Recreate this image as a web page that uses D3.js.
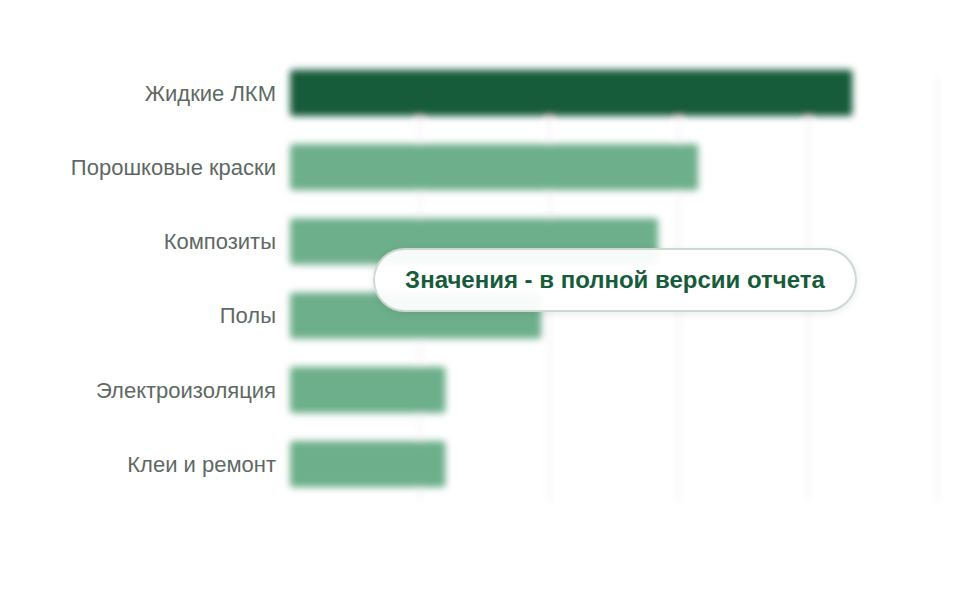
<!DOCTYPE html>
<html>
<head>
<meta charset="utf-8">
<script src="https://cdn.jsdelivr.net/npm/d3@7"></script>
<style>
  body { margin: 0; background: #fff; }
  #chart { position: relative; width: 960px; height: 600px; }
  .pill {
    position: absolute; left: 373px; top: 248px; width: 484px; height: 64px;
    box-sizing: border-box; border: 2px solid #cdd8d1; border-radius: 32px;
    background: rgba(255,255,255,0.94); box-shadow: 0 2px 8px rgba(0,0,0,0.08);
    display: flex; align-items: center; justify-content: center;
    font-family: "Liberation Sans", Arial, sans-serif; font-weight: bold;
    font-size: 24px; color: #175c3a;
  }
</style>
</head>
<body>
<div id="chart"></div>
<script>
// categories and values
const categories = ['Жидкие ЛКМ', 'Порошковые краски', 'Композиты', 'Полы', 'Электроизоляция', 'Клеи и ремонт'];
const values = [43.4, 31.5, 28.4, 19.4, 12, 12];
const xTicks = [0, 10, 20, 30, 40, 50];

var width = 960;
var height = 600;
var margin = { top: 55, right: 22, bottom: 98, left: 290 };

var svg = d3.select('#chart')
    .append('svg')
    .attr('width', width)
    .attr('height', height);

var defs = svg.append('defs');
defs.append('filter').attr('id', 'blur')
    .attr('x', '-10%').attr('y', '-30%').attr('width', '120%').attr('height', '160%')
    .append('feGaussianBlur').attr('stdDeviation', 3.6);

var x = d3.scaleLinear()
    .domain([0, 50])
    .range([margin.left, width - margin.right]);

var y = d3.scaleBand()
    .domain(categories)
    .range([margin.top, height - margin.bottom])
    .paddingInner(0.38)
    .paddingOuter(0.2);

var plot = svg.append('g').attr('filter', 'url(#blur)');

// faint grid
plot.append('g')
    .selectAll('line')
    .data(xTicks.slice(1))
    .enter()
    .append('line')
    .attr('x1', d => x(d)).attr('x2', d => x(d))
    .attr('y1', y(categories[0]) + 8).attr('y2', height - margin.bottom)
    .attr('stroke', '#f2f4f3')
    .attr('stroke-width', 3);

// bars
plot.selectAll('rect')
    .data(categories)
    .enter()
    .append('rect')
    .attr('x', x(0))
    .attr('y', d => y(d))
    .attr('width', (d, i) => x(values[i]) - x(0))
    .attr('height', y.bandwidth())
    .attr('rx', 3)
    .attr('fill', (d, i) => i == 0 ? '#165c3a' : '#6daf8b');

// category labels
svg.append('g')
    .selectAll('text')
    .data(categories)
    .enter()
    .append('text')
    .attr('x', margin.left - 14)
    .attr('y', d => y(d) + y.bandwidth() / 2)
    .attr('dy', '0.35em')
    .attr('text-anchor', 'end')
    .attr('fill', '#5e6964')
    .style('font-family', '"Liberation Sans", Arial, sans-serif')
    .style('font-size', '22px')
    .text(d => d);

d3.select('#chart').append('div')
    .attr('class', 'pill')
    .text('Значения - в полной версии отчета');
</script>
</body>
</html>
